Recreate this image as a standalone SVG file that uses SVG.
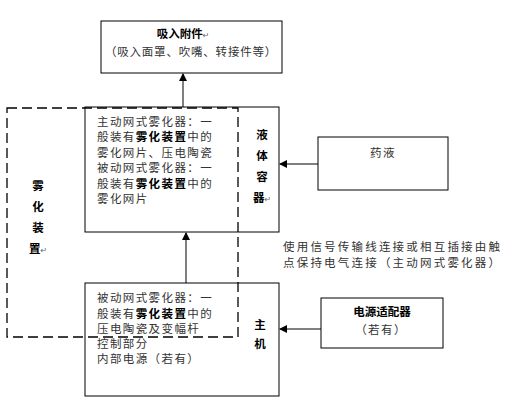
<svg xmlns="http://www.w3.org/2000/svg" width="507" height="401" viewBox="0 0 507 401">
<style>
.box{fill:#fff;stroke:#000;stroke-width:1}
.dash{fill:none;stroke:#000;stroke-width:1.3;stroke-dasharray:10,5}
.ln{stroke:#000;stroke-width:1;fill:none}
text{font-family:"Noto Sans CJK SC","DejaVu Sans",sans-serif;font-size:11.5px;fill:#000}
.t{letter-spacing:1.4px;fill:#333}
.b{font-weight:bold}
.pm{font-family:"DejaVu Sans",sans-serif;font-size:8px;fill:#666;font-weight:normal;letter-spacing:0}
</style>
<defs>
<marker id="ah" markerWidth="8" markerHeight="8" refX="7" refY="4" orient="auto" markerUnits="userSpaceOnUse">
<path d="M0,0 L8,4 L0,8 Z" fill="#000"/>
</marker>
</defs>
<g id="connectors">
<line class="ln" x1="183" y1="107" x2="183" y2="74" marker-end="url(#ah)"/>
<line class="ln" x1="186" y1="283" x2="186" y2="233" marker-end="url(#ah)"/>
<line class="ln" x1="318" y1="164" x2="280" y2="164" marker-end="url(#ah)"/>
<line class="ln" x1="321" y1="329" x2="280" y2="329" marker-end="url(#ah)"/>
</g>
<g id="inhale">
<rect class="box" x="101" y="21" width="181" height="52"/>
<text x="183" y="38" text-anchor="middle" class="b">吸入附件<tspan class="pm">↵</tspan></text>
<text x="191" y="56" text-anchor="middle" class="t" style="letter-spacing:0.8px">（吸入面罩、吹嘴、转接件等）</text>
</g>
<g id="container">
<rect class="box" x="85" y="107" width="194" height="125"/>
<text x="97" y="126" class="t">主动网式雾化器：一</text>
<text x="97" y="141" class="t">般装有<tspan class="b" fill="#000">雾化装置</tspan>中的</text>
<text x="97" y="157" class="t">雾化网片、压电陶瓷</text>
<text x="97" y="172" class="t">被动网式雾化器：一</text>
<text x="97" y="188" class="t">般装有<tspan class="b" fill="#000">雾化装置</tspan>中的</text>
<text x="97" y="203" class="t">雾化网片</text>
<text x="262" y="139" text-anchor="middle" class="b">液</text>
<text x="262" y="160" text-anchor="middle" class="b">体</text>
<text x="262" y="181" text-anchor="middle" class="b">容</text>
<text x="262" y="202" text-anchor="middle" class="b">器<tspan class="pm">↵</tspan></text>
</g>
<g id="medicine">
<rect class="box" x="318" y="137" width="130" height="53"/>
<text x="383" y="157" text-anchor="middle" class="t">药液</text>
</g>
<g id="host">
<rect class="box" x="85" y="283" width="194" height="113"/>
<text x="97" y="302" class="t">被动网式雾化器：一</text>
<text x="97" y="318" class="t">般装有<tspan class="b" fill="#000">雾化装置</tspan>中的</text>
<text x="97" y="333" class="t">压电陶瓷及变幅杆</text>
<text x="97" y="348" class="t">控制部分</text>
<text x="97" y="363" class="t">内部电源（若有）</text>
<text x="260" y="329" text-anchor="middle" class="b">主</text>
<text x="260" y="348" text-anchor="middle" class="b">机</text>
</g>
<g id="adapter">
<rect class="box" x="321" y="298" width="122" height="50"/>
<text x="382" y="316" text-anchor="middle" class="b">电源适配器</text>
<text x="381" y="334" text-anchor="middle" class="t">（若有）</text>
</g>
<g id="atomizer">
<rect class="dash" x="7" y="108" width="231" height="229"/>
<text x="38" y="190" text-anchor="middle" class="b">雾</text>
<text x="38" y="211" text-anchor="middle" class="b">化</text>
<text x="38" y="232" text-anchor="middle" class="b">装</text>
<text x="38" y="253" text-anchor="middle" class="b">置<tspan class="pm">↵</tspan></text>
</g>
<g id="note">
<text x="283" y="251" class="t" style="letter-spacing:2.2px">使用信号传输线连接或相互插接由触</text>
<text x="283" y="267" class="t" style="letter-spacing:2.2px">点保持电气连接（主动网式雾化器）</text>
</g>
</svg>
